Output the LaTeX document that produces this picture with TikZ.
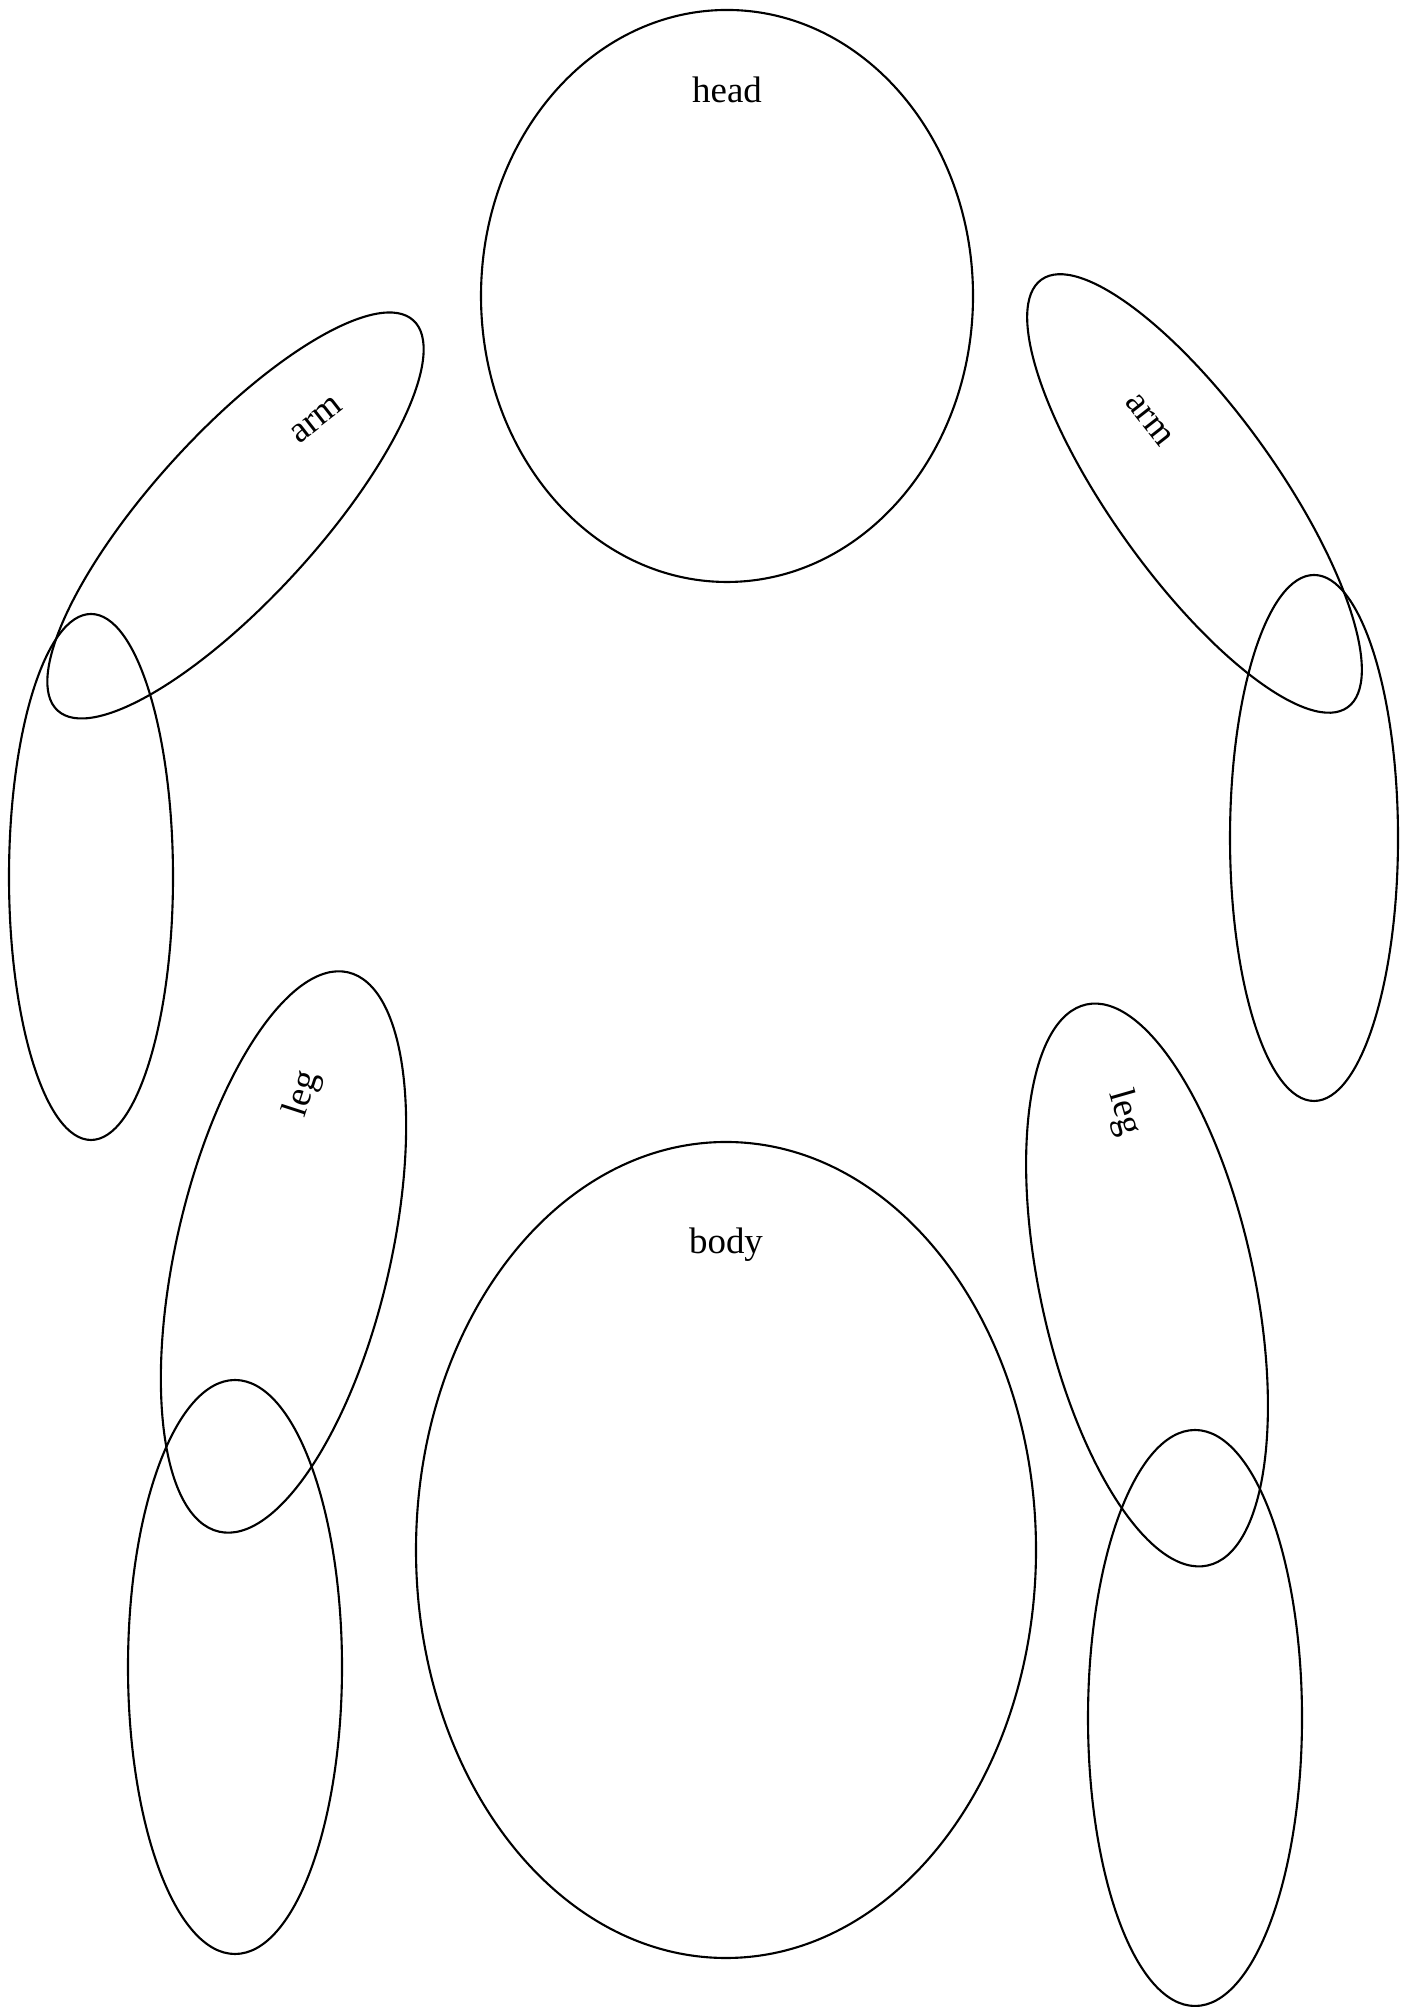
\documentclass[tikz,border=0pt]{standalone}
\usepackage{fontspec}
\setmainfont{Liberation Serif}
\usetikzlibrary{shapes.geometric}
\begin{document}
\begin{tikzpicture}[
    part/.style={ellipse, draw, line width=0.6pt, inner sep=0pt},
    every node/.style={font=\fontsize{10.5}{12}\selectfont}
]
\useasboundingbox (0,0) rectangle (14.04,20.07);

% Head and body
\node[part, minimum width=4.92cm, minimum height=5.72cm] (head) at (7.27,17.11) {};
\node (headlbl) at (7.27,19.17) {head};
\node[part, minimum width=6.20cm, minimum height=8.16cm] (body) at (7.26,4.57) {};
\node (bodylbl) at (7.26,7.62) {body};

% Arms
\node[part, minimum width=5.28cm, minimum height=1.66cm, rotate=47.65] (larm) at (2.355,14.915) {};
\node[rotate=38] (larmlbl) at (3.167,15.87) {arm};
\node[part, minimum width=5.26cm, minimum height=1.66cm, rotate=-54.4] (rarm) at (11.945,15.135) {};
\node[rotate=-52] (rarmlbl) at (11.49,15.87) {arm};
\node[part, minimum width=1.64cm, minimum height=5.26cm] (lfore) at (0.91,11.30) {};
\node[part, minimum width=1.68cm, minimum height=5.26cm] (rfore) at (13.14,11.69) {};

% Legs
\node[part, minimum width=5.74cm, minimum height=2.14cm, rotate=77] (lleg) at (2.835,7.55) {};
\node[rotate=72] (lleglbl) at (3.03,9.13) {leg};
\node[part, minimum width=5.74cm, minimum height=2.14cm, rotate=-77.8] (rleg) at (11.47,7.22) {};
\node[rotate=-74] (rleglbl) at (11.24,8.94) {leg};
\node[part, minimum width=2.14cm, minimum height=5.74cm] (lfoot) at (2.35,3.40) {};
\node[part, minimum width=2.14cm, minimum height=5.76cm] (rfoot) at (11.95,2.89) {};

\end{tikzpicture}
\end{document}
